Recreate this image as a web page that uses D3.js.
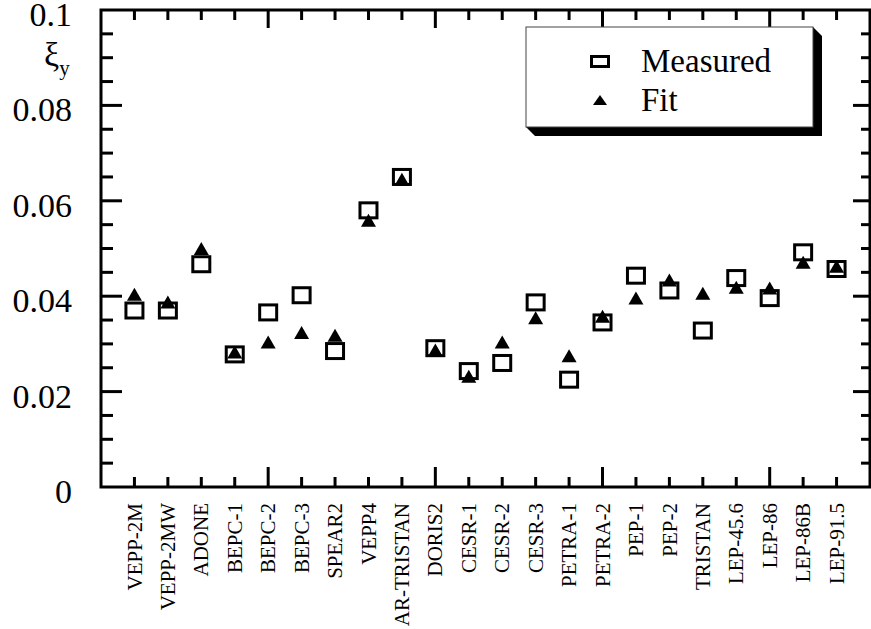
<!DOCTYPE html>
<html>
<head>
<meta charset="utf-8">
<script src="https://cdn.jsdelivr.net/npm/d3@7"></script>
<style>
  body { margin: 0; background: #fff; }
  svg { display: block; }
  text { font-family: "Liberation Serif", "Times New Roman", serif; fill: #000; }
</style>
</head>
<body>
<div id="vis"></div>
<script>
// machine names, in plot order
var machines = ["VEPP-2M", "VEPP-2MW", "ADONE", "BEPC-1", "BEPC-2", "BEPC-3", "SPEAR2",
  "VEPP4", "AR-TRISTAN", "DORIS2", "CESR-1", "CESR-2", "CESR-3", "PETRA-1", "PETRA-2",
  "PEP-1", "PEP-2", "TRISTAN", "LEP-45.6", "LEP-86", "LEP-86B", "LEP-91.5"]

// beam-beam parameter xi_y
var measured = [0.0370, 0.0370, 0.0467, 0.0278, 0.0366, 0.0402, 0.0285,
  0.0580, 0.0650, 0.0291, 0.0243, 0.0260, 0.0387, 0.0225, 0.0345,
  0.0443, 0.0412, 0.0328, 0.0438, 0.0396, 0.0492, 0.0457]
var fit = [0.0404, 0.0388, 0.0500, 0.0283, 0.0304, 0.0324, 0.0318,
  0.0559, 0.0645, 0.0287, 0.0232, 0.0304, 0.0355, 0.0275, 0.0358,
  0.0396, 0.0434, 0.0406, 0.0419, 0.0417, 0.0471, 0.0463]

var yTickLabels = ["0", "0.02", "0.04", "0.06", "0.08", "0.1"]
var legendItems = ["Measured", "Fit"]

var width = 871
var height = 629
// plot frame (note: "top" is taken by window.top)
var pLeft = 101, pRight = 870, pTop = 10, pBottom = 487

var svg = d3.select('#vis').append('svg')
  .attr('width', width)
  .attr('height', height)

// x: machine index 1..22 on a 0..23 axis
var x = d3.scaleLinear().domain([0, machines.length + 1]).range([pLeft, pRight])
var y = d3.scaleLinear().domain([0, 0.1]).range([pBottom, pTop])

var frame = svg.append('g')

// minor/major ticks on all four sides
var yMinor = d3.range(0, 0.1001, 0.005)
yMinor.forEach(function(v, i){
  var major = (i % 4 == 0)
  if (i == 0 || i == yMinor.length - 1) return
  frame.append('line').attr('x1', pLeft).attr('x2', pLeft + (major ? 21 : 12))
    .attr('y1', y(v)).attr('y2', y(v))
  frame.append('line').attr('x1', pRight).attr('x2', pRight - (major ? 17 : 9))
    .attr('y1', y(v)).attr('y2', y(v))
})
d3.range(1, machines.length + 1).forEach(function(i){
  var major = (i % 5 == 0)
  frame.append('line').attr('x1', x(i)).attr('x2', x(i))
    .attr('y1', pBottom).attr('y2', pBottom - (major ? 20 : 10))
  frame.append('line').attr('x1', x(i)).attr('x2', x(i))
    .attr('y1', pTop).attr('y2', pTop + (major ? 18 : 10))
})
frame.append('rect')
  .attr('x', pLeft).attr('y', pTop)
  .attr('width', pRight - pLeft).attr('height', pBottom - pTop)
  .attr('fill', 'none')
frame.selectAll('line, rect')
  .attr('stroke', '#000')
  .attr('stroke-width', 3)

// y tick labels (sit a little below their ticks, as in the original)
svg.selectAll('text.ytick')
  .data(yTickLabels)
  .enter()
  .append('text')
  .attr('class', 'ytick')
  .attr('x', 72)
  .attr('y', function(d){ return y(+d) })
  .attr('dy', '0.47em')
  .attr('text-anchor', 'end')
  .style('font-size', '34px')
  .text(function(d){ return d })

// axis title
var yt = svg.append('text')
  .attr('x', 44).attr('y', 66)
  .style('font-size', '34px')
yt.append('tspan').text('ξ')
yt.append('tspan').attr('dy', 9).style('font-size', '21px').text('y')

// x labels, rotated
svg.selectAll('text.xlab')
  .data(machines)
  .enter()
  .append('text')
  .attr('class', 'xlab')
  .attr('transform', function(d, i){ return 'translate(' + x(i + 1) + ',503) rotate(-90)' })
  .attr('dy', '0.34em')
  .attr('text-anchor', 'end')
  .style('font-size', '21px')
  .text(function(d){ return d })

// measured: open squares
svg.selectAll('rect.meas')
  .data(measured)
  .enter()
  .append('rect')
  .attr('class', 'meas')
  .attr('x', function(d, i){ return x(i + 1) - 8.5 })
  .attr('y', function(d){ return y(d) - 7.5 })
  .attr('width', 17)
  .attr('height', 15)
  .attr('fill', 'none')
  .attr('stroke', '#000')
  .attr('stroke-width', 3)

// fit: filled triangles
function tri(cx, cy, w, h){
  return 'M' + (cx - w / 2) + ',' + (cy + h / 2) + 'L' + cx + ',' + (cy - h / 2) +
    'L' + (cx + w / 2) + ',' + (cy + h / 2) + 'Z'
}
svg.selectAll('path.fit')
  .data(fit)
  .enter()
  .append('path')
  .attr('class', 'fit')
  .attr('d', function(d, i){ return tri(x(i + 1), y(d), 15, 13) })
  .attr('fill', '#000')

// legend with drop shadow
var lg = svg.append('g')
var lx = 526, ly = 27, lw = 287, lh = 100, off = 9
lg.append('path')
  .attr('d', 'M' + lx + ',' + (ly + lh) + 'L' + (lx + off) + ',' + (ly + lh + off) +
    'L' + (lx + lw + off) + ',' + (ly + lh + off) + 'L' + (lx + lw + off) + ',' + (ly + off) +
    'L' + (lx + lw) + ',' + ly + 'Z')
  .attr('fill', '#000')
lg.append('rect')
  .attr('x', lx).attr('y', ly).attr('width', lw).attr('height', lh)
  .attr('fill', '#fff').attr('stroke', '#444').attr('stroke-width', 1)
lg.append('rect')
  .attr('x', 591.5).attr('y', 56.5).attr('width', 17).attr('height', 10)
  .attr('fill', 'none').attr('stroke', '#000').attr('stroke-width', 3)
lg.append('path')
  .attr('d', tri(600, 100, 14, 10))
  .attr('fill', '#000')
lg.selectAll('text')
  .data(legendItems)
  .enter()
  .append('text')
  .attr('x', 641)
  .attr('y', function(d, i){ return 72 + i * 39 })
  .style('font-size', '33px')
  .text(function(d){ return d })
</script>
</body>
</html>
